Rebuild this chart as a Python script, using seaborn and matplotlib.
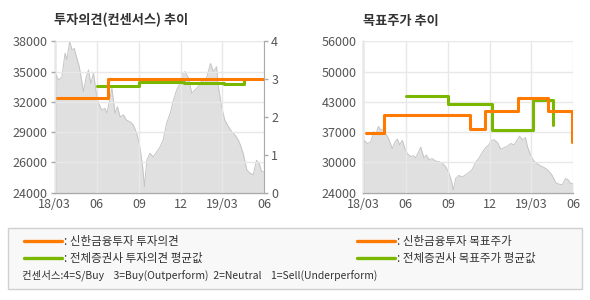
import numpy as np
import pandas as pd
import matplotlib
matplotlib.use("Agg")
import matplotlib.pyplot as plt
import matplotlib.dates as mdates
from matplotlib.lines import Line2D
from matplotlib.patches import Rectangle
import seaborn as sns

# ---------------- data ----------------
price_dates = ["2018-03-01", "2018-03-10", "2018-03-17", "2018-03-24", "2018-03-28", "2018-04-03",
               "2018-04-08", "2018-04-13", "2018-04-19", "2018-04-24", "2018-04-29", "2018-05-03",
               "2018-05-09", "2018-05-14", "2018-05-19", "2018-05-25", "2018-05-31", "2018-06-05",
               "2018-06-12", "2018-06-19", "2018-06-23", "2018-06-29", "2018-07-04", "2018-07-11",
               "2018-07-16", "2018-07-22", "2018-07-29", "2018-08-05", "2018-08-13", "2018-08-20",
               "2018-08-27", "2018-09-03", "2018-09-09", "2018-09-13", "2018-09-18", "2018-09-25",
               "2018-10-02", "2018-10-10", "2018-10-17", "2018-10-24", "2018-10-31", "2018-11-08",
               "2018-11-15", "2018-11-22", "2018-11-29", "2018-12-05", "2018-12-10", "2018-12-18",
               "2018-12-25", "2019-01-01", "2019-01-08", "2019-01-16", "2019-01-23", "2019-01-30",
               "2019-02-04", "2019-02-10", "2019-02-17", "2019-02-21", "2019-02-28", "2019-03-07",
               "2019-03-15", "2019-03-22", "2019-03-29", "2019-04-05", "2019-04-10", "2019-04-16",
               "2019-04-24", "2019-05-01", "2019-05-08", "2019-05-15", "2019-05-21", "2019-05-26",
               "2019-05-31"]
price_values = [35200, 34400, 34700, 36900, 36300, 38000,
                37200, 37350, 36400, 35650, 34400, 33350,
                34700, 35350, 34100, 35050, 33200, 32250,
                31650, 31800, 31350, 32550, 33650, 31350,
                31950, 31000, 31200, 30700, 30550, 30250,
                29500, 28250, 26400, 24550, 27000, 27650,
                27300, 27800, 28250, 28900, 30400, 31350,
                32550, 33500, 34100, 35050, 35200, 34600,
                33200, 33500, 33800, 34400, 34100, 35200,
                35950, 35200, 35650, 33800, 31950, 30700,
                30100, 29650, 29350, 28900, 28400, 27650,
                26100, 25800, 25650, 27000, 26700, 25950,
                25950]

# 투자의견 (consensus score)
op_shinhan_dates = ["2018-03-07", "2018-06-25", "2019-05-31"]
op_shinhan_values = [2.5, 3.0, 3.0]
op_all_dates = ["2018-06-01", "2018-09-02", "2018-12-07", "2019-03-05", "2019-04-17"]
op_all_values = [2.81, 2.93, 2.91, 2.88, 3.0]

# 목표주가
tp_shinhan_dates = ["2018-03-07", "2018-04-15", "2018-10-19", "2018-11-20", "2019-02-01", "2019-04-08", "2019-05-29"]
tp_shinhan_values = [36600, 40500, 37500, 41300, 44000, 41300, 34800]
tp_all_dates = ["2018-06-01", "2018-09-02", "2018-12-07", "2019-03-05", "2019-04-17"]
tp_all_values = [44500, 42700, 37200, 43500, 38300]

x_ticks = ["2018-03-01", "2018-06-01", "2018-09-01", "2018-12-01", "2019-03-01", "2019-06-01"]
x_ticklabels = ["18/03", "06", "09", "12", "19/03", "06"]
left_yticks = [24000, 26800, 29600, 32400, 35200, 38000]
left_yticklabels = ["24000", "26000", "29000", "32000", "35000", "38000"]
op_ticks = [0, 1, 2, 3, 4]
right_yticks = [24000, 30400, 36800, 43200, 49600, 56000]
right_yticklabels = ["24000", "30000", "37000", "43000", "50000", "56000"]

titles = ["투자의견(컨센서스) 추이", "목표주가 추이"]
legend_labels = [": 신한금융투자 투자의견", ": 전체증권사 투자의견 평균값",
                 ": 신한금융투자 목표주가", ": 전체증권사 목표주가 평균값"]
consensus_note = "컨센서스:4=S/Buy    3=Buy(Outperform)  2=Neutral    1=Sell(Underperform)"

# ---------------- style ----------------
sns.set_style("white")
plt.rcParams['font.family'] = ['Noto Sans CJK KR', 'DejaVu Sans']

ORANGE = "#ff7a00"
GREEN = "#7ab800"
FILL = "#e0e0e0"
EDGE = "#c4c4c4"
GRID = "#e8e8e8"
SPINE = "#aaaaaa"
TICKC = "#555555"

price_df = pd.DataFrame({"date": pd.to_datetime(price_dates), "price": price_values})
op_sh = pd.DataFrame({"date": pd.to_datetime(op_shinhan_dates), "v": op_shinhan_values})
op_all = pd.DataFrame({"date": pd.to_datetime(op_all_dates), "v": op_all_values})
tp_sh = pd.DataFrame({"date": pd.to_datetime(tp_shinhan_dates), "v": tp_shinhan_values})
tp_all = pd.DataFrame({"date": pd.to_datetime(tp_all_dates), "v": tp_all_values})
xt = pd.to_datetime(x_ticks)

fig = plt.figure(figsize=(5.9, 3.0), dpi=100)
W, H = 590, 300

def rect(x0, y0, x1, y1):
    return [x0 / W, 1 - y1 / H, (x1 - x0) / W, (y1 - y0) / H]

def setup_price_axes(ax, ylo, yhi, yticks, yticklabels):
    ax.fill_between(price_df["date"], price_df["price"], ylo, color=FILL, zorder=1, linewidth=0)
    sns.lineplot(data=price_df, x="date", y="price", ax=ax, color=EDGE, linewidth=0.7, zorder=1.2)
    ax.set_xlim(xt[0], xt[-1])
    ax.set_ylim(ylo, yhi)
    ax.set_xticks(xt)
    ax.set_xticklabels(x_ticklabels)
    ax.set_yticks(yticks)
    ax.set_yticklabels(yticklabels)
    ax.set_xlabel("")
    ax.set_ylabel("")
    ax.grid(True, color=GRID, linewidth=1.0)
    ax.set_axisbelow(False)
    for s in ["top", "right"]:
        ax.spines[s].set_visible(False)
    for s in ["left", "bottom"]:
        ax.spines[s].set_color(SPINE)
        ax.spines[s].set_linewidth(1.0)
    ax.tick_params(axis="y", length=3, width=1, color=SPINE, labelsize=9, labelcolor=TICKC, pad=2)
    ax.tick_params(axis="x", length=0, labelsize=9, labelcolor=TICKC, pad=4)

# Left chart
ax1 = fig.add_axes(rect(54.5, 41.3, 264.3, 192.7))
setup_price_axes(ax1, 24000, 38000, left_yticks, left_yticklabels)
ax1b = ax1.twinx()
sns.lineplot(data=op_all, x="date", y="v", ax=ax1b, color=GREEN, linewidth=2.2, drawstyle="steps-post", zorder=3)
sns.lineplot(data=op_sh, x="date", y="v", ax=ax1b, color=ORANGE, linewidth=2.2, drawstyle="steps-post", zorder=4)
ax1b.set_ylim(0, 4)
ax1b.set_yticks(op_ticks)
ax1b.set_xlim(xt[0], xt[-1])
ax1b.set_ylabel("")
for s in ["top", "left", "bottom"]:
    ax1b.spines[s].set_visible(False)
ax1b.spines["right"].set_color(SPINE)
ax1b.tick_params(axis="y", length=3, width=1, color=SPINE, labelsize=9, labelcolor=TICKC, pad=2)
ax1.set_title(titles[0], loc="left", fontsize=9.5, fontweight="bold", color="#333333", pad=12, x=0.0)

# Right chart
ax2 = fig.add_axes(rect(363.3, 41.3, 573.3, 192.7))
setup_price_axes(ax2, 24000, 56000, right_yticks, right_yticklabels)
sns.lineplot(data=tp_all, x="date", y="v", ax=ax2, color=GREEN, linewidth=2.2, drawstyle="steps-post", zorder=3)
sns.lineplot(data=tp_sh, x="date", y="v", ax=ax2, color=ORANGE, linewidth=2.2, drawstyle="steps-post", zorder=4)
ax2.set_ylabel("")
ax2.set_xlabel("")
ax2.set_title(titles[1], loc="left", fontsize=9.5, fontweight="bold", color="#333333", pad=12)

# Legend box
fig.patches.append(Rectangle((8 / W, 1 - 289 / H), 574 / W, 61 / H, transform=fig.transFigure,
                             facecolor="#f8f8f8", edgecolor="#d0d0d0", linewidth=1))
rows_y = [241, 258]
cols = [(24, 62, 64), (357, 395, 397)]
colors = [ORANGE, GREEN]
k = 0
for c in cols:
    for r, col in zip(rows_y, colors):
        fig.add_artist(Line2D([c[0] / W, c[1] / W], [1 - r / H, 1 - r / H], color=col, linewidth=2.4,
                              transform=fig.transFigure))
        fig.text(c[2] / W, 1 - r / H, legend_labels[k], fontsize=8.3, color="#333333", va="center", ha="left")
        k += 1
fig.text(22 / W, 1 - 275 / H, consensus_note, fontsize=7.5, color="#333333", va="center", ha="left")

fig.savefig("out.png", dpi=100, facecolor="white")
